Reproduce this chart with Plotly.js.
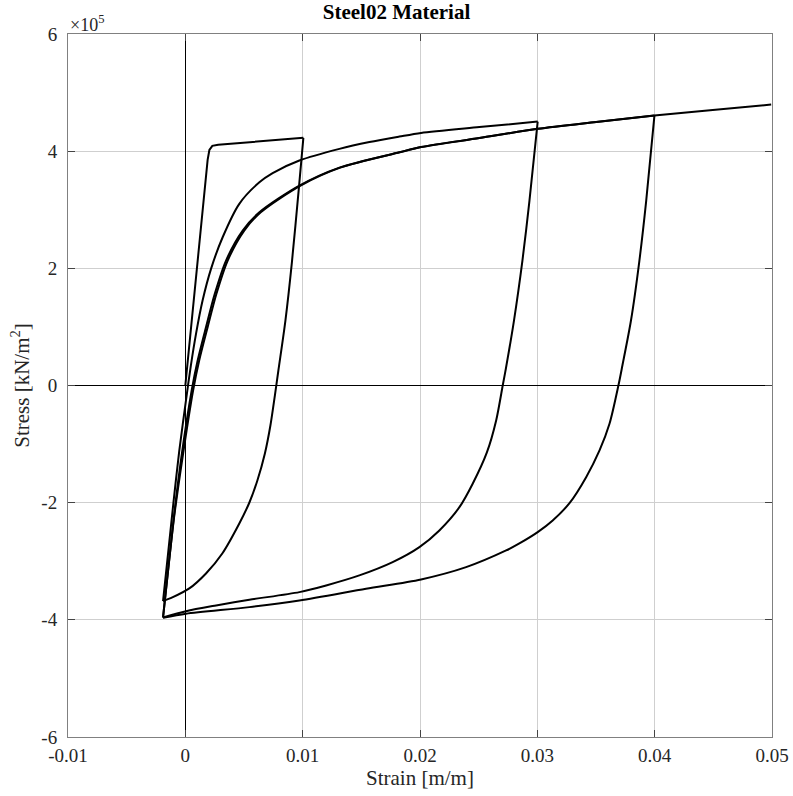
<!DOCTYPE html>
<html>
<head>
<meta charset="utf-8">
<script src="https://cdn.plot.ly/plotly-3.0.1.min.js"></script>
<style>html,body{margin:0;padding:0;background:#fff;}#chart{width:793px;height:796px;}</style>
</head>
<body>
<div id="chart"></div>
<script>
// Stress values are in units of 1e5 kN/m^2 (axis multiplier shown as x10^5)
// Branch A: initial loading 0 -> 0.01
var strainA = [0, 0.0019, 0.00205, 0.0023, 0.0028, 0.01006];
var stressA = [0, 3.85, 4.02, 4.09, 4.11, 4.227];
// Branch B: unloading 0.01 -> -0.002
var strainB = [0.01006, 0.00968, 0.00908, 0.00853, 0.00793, 0.00763, 0.00725, 0.00678, 0.00614, 0.00546, 0.0046, 0.00315, 0.00176, 0.00034, -0.00111, -0.0019];
var stressB = [4.227, 3.379, 2.099, 1.109, 0.256, -0.171, -0.683, -1.160, -1.621, -1.997, -2.355, -2.867, -3.208, -3.464, -3.618, -3.681];
// Branch C: reloading -0.002 -> 0.03
var strainC = [-0.0019, -0.00100, -0.00052, 0.00013, 0.00047, 0.00091, 0.00147, 0.00219, 0.00318, 0.0046, 0.00631, 0.00744, 0.00972, 0.01313, 0.01569, 0.01824, 0.02009, 0.02506, 0.03003];
var stressC = [-3.681, -1.974, -1.121, -0.142, 0.341, 0.882, 1.451, 1.991, 2.531, 3.101, 3.469, 3.626, 3.840, 4.039, 4.155, 4.249, 4.312, 4.411, 4.505];
// Branch D: unloading 0.03 -> -0.002
var strainD = [0.03003, 0.02933, 0.02873, 0.02801, 0.02732, 0.02705, 0.02649, 0.0257, 0.02449, 0.02336, 0.02165, 0.01995, 0.01767, 0.01483, 0.012, 0.00972, 0.00546, 0.00262, 0.00006, -0.0019];
var stressD = [4.505, 3.157, 2.133, 1.109, 0.290, 0, -0.597, -1.143, -1.677, -2.077, -2.474, -2.759, -3.015, -3.242, -3.413, -3.527, -3.657, -3.754, -3.852, -3.959];
// Branch E: reloading -0.002 -> 0.04
var strainE = [-0.0019, -0.00098, -0.00034, 0.00054, 0.00105, 0.00176, 0.00251, 0.00347, 0.00489, 0.00631, 0.00972, 0.01313, 0.01824, 0.02009, 0.02506, 0.03003, 0.03501, 0.03998];
var stressE = [-3.959, -2.253, -1.229, -0.085, 0.427, 0.995, 1.565, 2.133, 2.645, 2.957, 3.413, 3.720, 3.981, 4.070, 4.224, 4.381, 4.497, 4.608];
// Branch F: unloading 0.04 -> -0.002
var strainF = [0.03998, 0.03928, 0.0387, 0.03798, 0.03725, 0.03691, 0.03615, 0.0353, 0.03416, 0.03274, 0.03131, 0.03003, 0.02847, 0.02734, 0.02393, 0.02009, 0.0154, 0.00972, 0.00546, 0.00006, -0.0019];
var stressF = [4.608, 3.157, 2.133, 1.109, 0.341, 0, -0.654, -1.109, -1.565, -2.009, -2.304, -2.503, -2.696, -2.816, -3.101, -3.311, -3.469, -3.669, -3.783, -3.896, -3.964];
// Branch G: reloading -0.002 -> 0.05
var strainG = [-0.0019, -0.00096, -0.00024, 0.00066, 0.00118, 0.0019, 0.00265, 0.00361, 0.00502, 0.00643, 0.00982, 0.0132, 0.01828, 0.02011, 0.02506, 0.03003, 0.03501, 0.03998, 0.04495, 0.04993];
var stressG = [-3.964, -2.253, -1.229, -0.085, 0.427, 0.995, 1.565, 2.133, 2.645, 2.957, 3.413, 3.720, 3.981, 4.070, 4.224, 4.381, 4.497, 4.608, 4.701, 4.795];

var xTickVals = [-0.01, 0, 0.01, 0.02, 0.03, 0.04, 0.05];
var xTickText = ['-0.01', '0', '0.01', '0.02', '0.03', '0.04', '0.05'];
var yTickVals = [-6, -4, -2, 0, 2, 4, 6];
var yTickText = ['-6', '-4', '-2', '0', '2', '4', '6'];

var branches = [
  [strainA, stressA, 'linear'], [strainB, stressB, 'spline'], [strainC, stressC, 'spline'],
  [strainD, stressD, 'spline'], [strainE, stressE, 'spline'], [strainF, stressF, 'spline'],
  [strainG, stressG, 'spline']
];

var serif = "'Liberation Serif', 'Times New Roman', 'DejaVu Serif', serif";
var traces = branches.map(function (b) {
  var ln = {color: '#000000', width: 2, shape: b[2]};
  if (b[2] === 'spline') ln.smoothing = 0.8;
  return {
    x: b[0], y: b[1], mode: 'lines', type: 'scatter',
    line: ln, hoverinfo: 'skip', showlegend: false
  };
});
var axisCommon = {
  showline: true, linecolor: '#808080', linewidth: 1, mirror: 'allticks',
  ticks: 'inside', ticklen: 7, tickcolor: '#444444', tickwidth: 1,
  showgrid: true, gridcolor: '#cfcfcf', gridwidth: 1,
  zeroline: true, zerolinecolor: '#000000', zerolinewidth: 1,
  tickfont: {family: serif, size: 19, color: '#262626'}
};
var layout = {
  width: 793, height: 796,
  margin: {l: 68, r: 21, t: 34, b: 59},
  paper_bgcolor: '#ffffff', plot_bgcolor: '#ffffff',
  title: {text: '<b>Steel02 Material</b>', font: {family: serif, size: 21, color: '#000000'}, x: 0.5, xanchor: 'center', y: 0.985, yanchor: 'middle'},
  xaxis: Object.assign({}, axisCommon, {
    range: [-0.01, 0.05], tickmode: 'array', tickvals: xTickVals, ticktext: xTickText,
    ticklabelstandoff: 1,
    title: {text: 'Strain [m/m]', font: {family: serif, size: 21, color: '#262626'}, standoff: 2}
  }),
  yaxis: Object.assign({}, axisCommon, {
    range: [-6, 6], tickmode: 'array', tickvals: yTickVals, ticktext: yTickText,
    ticklabelstandoff: 6,
    title: {text: 'Stress [kN/m<sup>2</sup>]', font: {family: serif, size: 21, color: '#262626'}, standoff: 6}
  }),
  annotations: [{
    xref: 'paper', yref: 'paper', x: 0, y: 1, xanchor: 'left', yanchor: 'bottom',
    text: '×10<sup>5</sup>', showarrow: false, yshift: -3, xshift: 0,
    font: {family: serif, size: 18, color: '#262626'}
  }]
};
Plotly.newPlot('chart', traces, layout, {displayModeBar: false, staticPlot: true});
</script>
</body>
</html>
